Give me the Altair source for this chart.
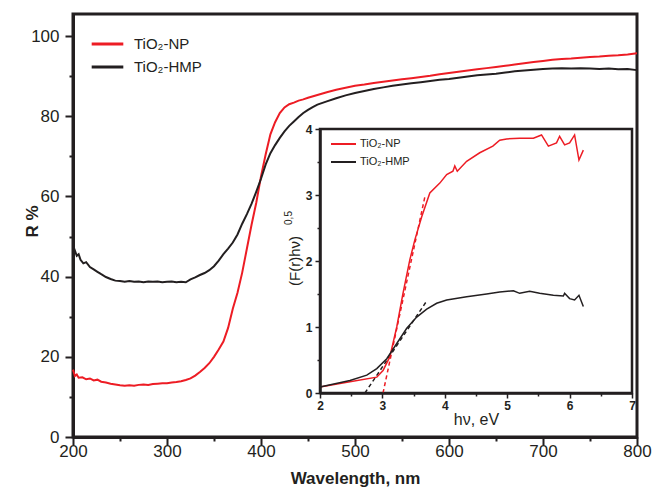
import altair as alt
import pandas as pd

RED = "#ed1c24"
BLACK = "#231f20"
FONT = "Liberation Sans"

series_names = ["TiO₂-NP", "TiO₂-HMP"]
inset_keys = ["NP", "HMP"]  # inset series, labelled "TiO₂-" + key

# ---- main chart data (wavelength, R %) ----
np_wl = [200, 202, 204, 206, 210, 214, 218, 222, 226, 230, 235, 240, 245, 250, 255, 260, 265, 270,
         275, 280, 285, 290, 295, 300, 305, 310, 315, 320, 325, 330, 335, 340, 345, 350, 355, 360,
         365, 370, 375, 380, 385, 390, 395, 400, 405, 410, 415, 420, 425, 430, 435, 440, 445, 450,
         460, 470, 480, 490, 500, 510, 520, 530, 540, 550, 560, 570, 580, 590, 600, 610, 620, 630,
         640, 650, 660, 670, 680, 690, 700, 710, 720, 730, 740, 750, 760, 770, 780, 790, 800]
np_R = [16.8, 15.2, 15.6, 14.8, 14.9, 14.4, 14.6, 14.1, 14.3, 13.8, 13.6, 13.3, 13.1, 12.9, 12.8,
        12.9, 12.8, 13.0, 13.1, 13.0, 13.2, 13.3, 13.4, 13.4, 13.6, 13.7, 13.9, 14.2, 14.6, 15.3,
        16.2, 17.2, 18.4, 20.0, 21.8, 23.8, 27.2, 32.0, 36.0, 41.0, 47.0, 53.0, 58.5, 65.0, 70.5,
        75.5, 78.5, 80.8, 82.2, 83.0, 83.4, 83.9, 84.2, 84.6, 85.3, 86.0, 86.6, 87.1, 87.6, 87.9,
        88.3, 88.6, 88.9, 89.2, 89.5, 89.8, 90.1, 90.5, 90.8, 91.1, 91.4, 91.7, 92.0, 92.3, 92.6,
        92.9, 93.2, 93.5, 93.8, 94.1, 94.3, 94.4, 94.6, 94.8, 94.9, 95.1, 95.2, 95.4, 95.7]

hmp_wl = [200, 202, 204, 206, 208, 211, 214, 218, 222, 226, 230, 235, 240, 245, 250, 255, 260, 265,
          270, 275, 280, 285, 290, 295, 300, 305, 310, 315, 320, 325, 330, 335, 340, 345, 350, 355,
          360, 365, 370, 375, 380, 385, 390, 395, 400, 405, 410, 415, 420, 425, 430, 435, 440, 445,
          450, 455, 460, 470, 480, 490, 500, 510, 520, 530, 540, 550, 560, 570, 580, 590, 600, 610,
          620, 630, 640, 650, 660, 670, 680, 690, 700, 710, 720, 730, 740, 750, 760, 770, 780, 790, 800]
hmp_R = [45.8, 46.5, 45.2, 45.6, 44.2, 43.3, 43.6, 42.4, 41.8, 41.2, 40.6, 39.9, 39.4, 39.0, 38.9,
         38.7, 38.9, 38.7, 38.8, 38.6, 38.8, 38.7, 38.8, 38.6, 38.7, 38.8, 38.6, 38.7, 38.6, 39.3,
         39.8, 40.4, 40.9, 41.6, 42.6, 44.0, 45.6, 47.0, 48.5, 50.5, 53.2, 55.6, 58.2, 61.2, 64.4,
         68.0, 70.8, 72.8, 74.6, 76.2, 77.6, 78.7, 79.8, 80.8, 81.6, 82.3, 82.9, 83.7, 84.5, 85.2,
         85.8, 86.3, 86.8, 87.2, 87.6, 87.9, 88.2, 88.5, 88.8, 89.1, 89.3, 89.6, 89.9, 90.2, 90.4,
         90.6, 90.9, 91.2, 91.4, 91.6, 91.8, 91.9, 92.0, 91.9, 92.0, 91.9, 91.8, 91.9, 91.7, 91.8, 91.5]

# ---- inset data (hv eV, (F(r)hv)^0.5) ----
np_e = [2.0, 2.48, 2.91, 3.01, 3.12, 3.23, 3.33, 3.44, 3.52, 3.63, 3.76, 3.92, 4.03, 4.13, 4.16,
        4.2, 4.35, 4.56, 4.77, 4.88, 4.99, 5.2, 5.42, 5.55, 5.66, 5.79, 5.84, 5.92, 6.0, 6.08, 6.15, 6.22]
np_F = [0.09, 0.17, 0.24, 0.34, 0.55, 1.0, 1.51, 2.02, 2.32, 2.67, 3.03, 3.18, 3.31, 3.36, 3.44,
        3.36, 3.51, 3.64, 3.74, 3.83, 3.85, 3.86, 3.86, 3.91, 3.74, 3.79, 3.89, 3.76, 3.79, 3.91, 3.53, 3.68]
hmp_e = [2.0, 2.48, 2.75, 2.91, 3.07, 3.23, 3.39, 3.55, 3.71, 3.87, 4.03, 4.35, 4.67, 4.88, 5.1,
         5.2, 5.36, 5.52, 5.74, 5.9, 5.92, 6.0, 6.08, 6.15, 6.22]
hmp_F = [0.09, 0.19, 0.27, 0.37, 0.52, 0.75, 0.98, 1.15, 1.27, 1.36, 1.41, 1.46, 1.50, 1.53, 1.55,
         1.51, 1.54, 1.51, 1.48, 1.47, 1.51, 1.43, 1.41, 1.48, 1.31]

# tangent (dashed) lines: endpoints
np_tan_e = [3.01, 3.68]
np_tan_F = [0.0, 2.97]
hmp_tan_e = [2.72, 3.70]
hmp_tan_F = [0.0, 1.38]

main_df = pd.concat([
    pd.DataFrame({"wl": np_wl, "R": np_R, "series": series_names[0]}),
    pd.DataFrame({"wl": hmp_wl, "R": hmp_R, "series": series_names[1]}),
])
inset_df = pd.concat([
    pd.DataFrame({"e": np_e, "F": np_F, "s2": inset_keys[0]}),
    pd.DataFrame({"e": hmp_e, "F": hmp_F, "s2": inset_keys[1]}),
])
np_tan_df = pd.DataFrame({"e": np_tan_e, "F": np_tan_F})
hmp_tan_df = pd.DataFrame({"e": hmp_tan_e, "F": hmp_tan_F})
frame_df = pd.DataFrame({"x0": [2], "x1": [7], "y0": [0], "y1": [4]})

W, H = 564, 423

main_x_axis = alt.Axis(
    values=list(range(200, 801, 50)), title="Wavelength, nm",
    labelExpr="datum.value % 100 === 0 ? datum.label : ''",
    tickSize=8,
    tickDash={"condition": {"test": "datum.value % 100 !== 0", "value": [4, 20]}, "value": [1, 0]},
    labelPadding=-2, titlePadding=11, grid=False, labelFlush=False,
)
main_y_axis = alt.Axis(
    values=list(range(0, 101, 10)), title="R %",
    labelExpr="datum.value % 20 === 0 ? datum.label : ''",
    tickSize=8,
    tickDash={"condition": {"test": "datum.value % 20 !== 0", "value": [4, 20]}, "value": [1, 0]},
    labelPadding=6, grid=False, labelFlush=False,
    titleX=-41, titleY=207, titleBaseline="middle", titleAlign="center", titleAngle=270,
)

main = alt.Chart(main_df).mark_line(strokeWidth=2).encode(
    x=alt.X("wl:Q", scale=alt.Scale(domain=[200, 800], nice=False), axis=main_x_axis),
    y=alt.Y("R:Q", scale=alt.Scale(domain=[0, 105.5], nice=False), axis=main_y_axis),
    color=alt.Color("series:N", scale=alt.Scale(domain=series_names, range=[RED, BLACK]),
                    legend=alt.Legend(orient="none", legendX=17, legendY=22, title=None,
                                      symbolType="stroke", symbolSize=1000, symbolStrokeWidth=3,
                                      labelFontSize=15, labelFont=FONT, labelColor=BLACK,
                                      labelOffset=9, clipHeight=16, rowPadding=7, padding=0,
                                      zindex=2)),
)

inset_x_scale = alt.Scale(domain=[2, 7], nice=False, range=[247, 559])
inset_y_scale = alt.Scale(domain=[0, 4], nice=False, range=[379, 115])

inset_x_axis = alt.Axis(
    orient="bottom", offset=-44, values=[v / 2 for v in range(4, 15)], title="hν, eV",
    labelExpr="datum.value % 1 === 0 ? format(datum.value, 'd') : ''",
    tickSize=5,
    tickDash={"condition": {"test": "datum.value % 1 !== 0", "value": [3, 20]}, "value": [1, 0]},
    labelFontSize=12, labelFontWeight="bold", titleFontSize=16, titleFontWeight="normal",
    labelPadding=2, titlePadding=0, domainWidth=2.5, tickWidth=1.5, grid=False,
    labelFlush=False, zindex=1,
)
inset_y_axis = alt.Axis(
    orient="left", offset=-247, values=[v / 2 for v in range(0, 9)], title=None,
    labelExpr="datum.value % 1 === 0 ? format(datum.value, 'd') : ''",
    tickSize=5,
    tickDash={"condition": {"test": "datum.value % 1 !== 0", "value": [3, 20]}, "value": [1, 0]},
    labelFontSize=12, labelFontWeight="bold", labelPadding=3, domainWidth=2.5, tickWidth=1.5,
    grid=False, labelFlush=False, zindex=1,
)

frame = alt.Chart(frame_df).mark_rect(fill="white", stroke=BLACK, strokeWidth=2.5).encode(
    x=alt.X("x0:Q", scale=inset_x_scale, axis=inset_x_axis),
    x2="x1:Q",
    y=alt.Y("y0:Q", scale=inset_y_scale, axis=inset_y_axis),
    y2="y1:Q",
)

inset_stroke_scale = alt.Scale(domain=inset_keys, range=[RED, BLACK])

inset_lines = alt.Chart(inset_df).mark_line(strokeWidth=1.5).encode(
    x=alt.X("e:Q", scale=inset_x_scale),
    y=alt.Y("F:Q", scale=inset_y_scale),
    stroke=alt.Stroke("s2:N", scale=inset_stroke_scale,
                      legend=alt.Legend(orient="none", legendX=257, legendY=124, title=None,
                                        labelExpr="'TiO₂-' + datum.label",
                                        symbolType="stroke", symbolSize=625, symbolStrokeWidth=2,
                                        labelFontSize=11, labelFont=FONT, labelColor=BLACK,
                                        labelOffset=3, clipHeight=12, rowPadding=6, padding=0,
                                        zindex=2)),
)

np_tangent = alt.Chart(np_tan_df).mark_line(strokeWidth=1.5, strokeDash=[4, 3], color=RED).encode(
    x=alt.X("e:Q", scale=inset_x_scale),
    y=alt.Y("F:Q", scale=inset_y_scale),
)
hmp_tangent = alt.Chart(hmp_tan_df).mark_line(strokeWidth=1.5, strokeDash=[4, 3], color=BLACK).encode(
    x=alt.X("e:Q", scale=inset_x_scale),
    y=alt.Y("F:Q", scale=inset_y_scale),
)

ytitle = alt.Chart(pd.DataFrame({"t": ["(F(r)hν)"]})).mark_text(
    angle=270, fontSize=15, font=FONT, color=BLACK, align="center", baseline="middle"
).encode(x=alt.value(222), y=alt.value(247), text="t:N")
ysup = alt.Chart(pd.DataFrame({"t": ["0,5"]})).mark_text(
    angle=270, fontSize=10, font=FONT, color=BLACK, align="center", baseline="middle"
).encode(x=alt.value(216), y=alt.value(204), text="t:N")

inset = alt.layer(frame, np_tangent, hmp_tangent, inset_lines, ytitle, ysup)

chart = alt.layer(main, inset).resolve_scale(
    x="independent", y="independent"
).resolve_axis(x="independent", y="independent").properties(
    width=W, height=H,
    autosize=alt.AutoSizeParams(type="none"),
    padding={"left": 73, "top": 14, "right": 19, "bottom": 54},
    background="white",
).configure_view(
    stroke=BLACK, strokeWidth=3
).configure_axis(
    domainColor=BLACK, domainWidth=3, tickColor=BLACK, tickWidth=2,
    labelFont=FONT, labelFontSize=17, labelColor=BLACK,
    titleFont=FONT, titleFontSize=17, titleFontWeight="bold", titleColor=BLACK,
)

chart.save("out.html", embed_options={"renderer": "svg", "actions": False})
